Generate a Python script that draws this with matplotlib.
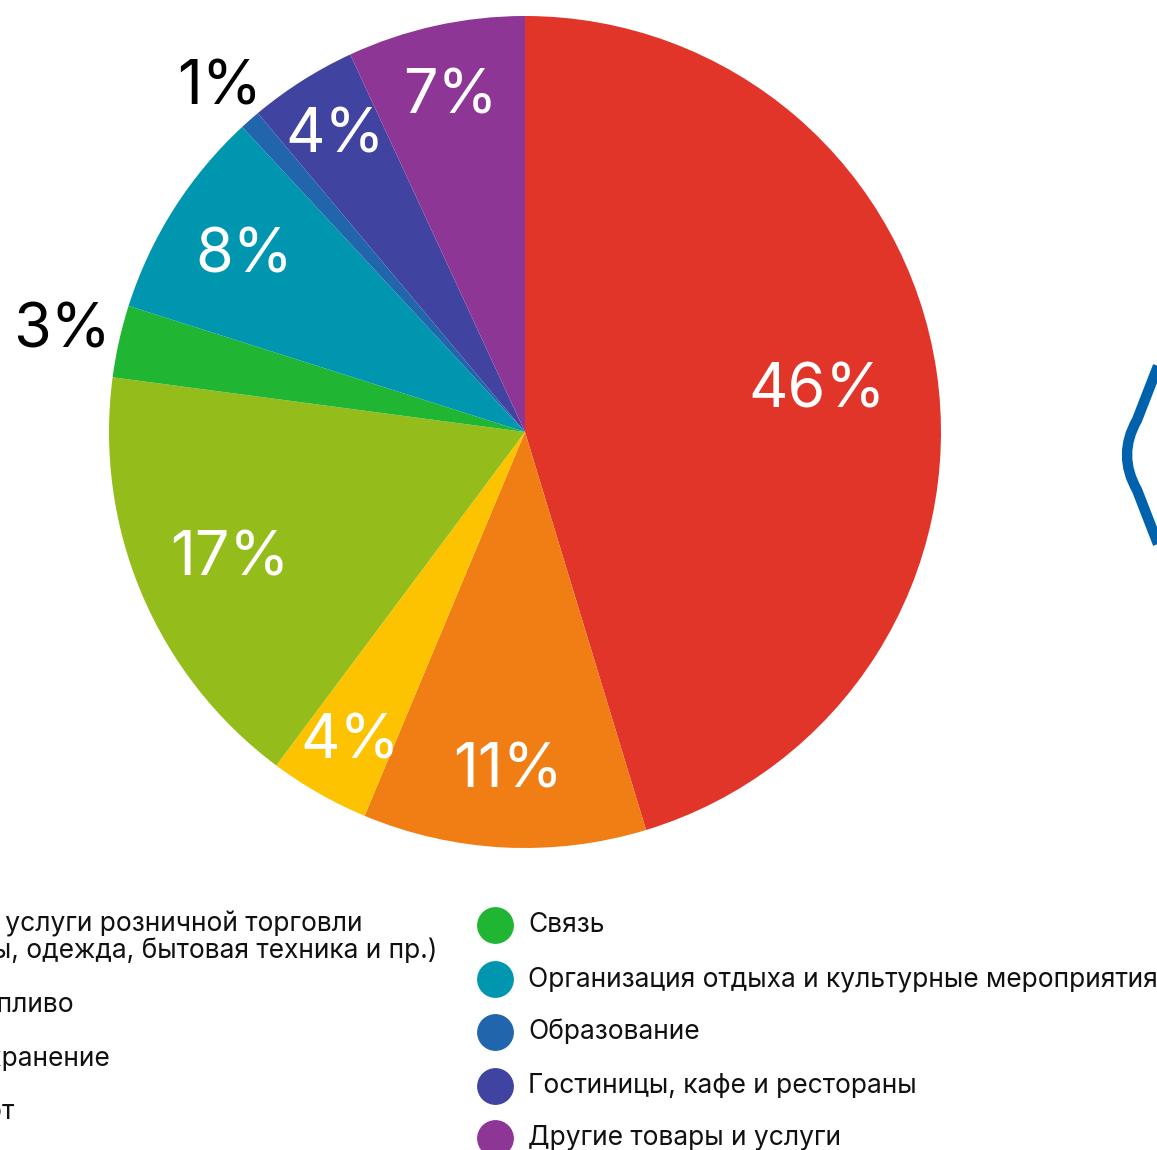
import matplotlib.pyplot as plt
import numpy as np
from matplotlib.path import Path
from matplotlib.patches import PathPatch

# shares (slice angles), and the printed labels
categories = ['Товары и услуги розничной торговли\n(продукты, одежда, бытовая техника и пр.)',
              'Авто и топливо', 'Здравоохранение', 'Транспорт', 'Связь',
              'Организация отдыха и культурные мероприятия', 'Образование',
              'Гостиницы, кафе и рестораны', 'Другие товары и услуги']
shares = [45.3, 11.0, 3.9, 16.9, 2.8, 8.2, 0.8, 4.2, 6.9]
pct_labels = ['46%', '11%', '4%', '17%', '3%', '8%', '1%', '4%', '7%']

colors = ['#E1352A', '#F07E15', '#FDC300', '#94BD1B', '#21B534',
          '#0096AF', '#2166AC', '#4143A0', '#8E3696']
label_r = [0.71, 0.81, 0.85, 0.77, 1.14, 0.80, 1.11, 0.85, 0.83]
label_col = ['white', 'white', 'white', 'white', 'black',
             'white', 'black', 'white', 'white']

W, H = 1157, 1150
fig = plt.figure(figsize=(W / 100, H / 100), dpi=100)
ax = fig.add_axes([0, 0, 1, 1])

cx, cy, R = 525, H - 432, 416
wedges, _ = ax.pie(shares, colors=colors, startangle=90, counterclock=False,
                   center=(cx, cy), radius=R, wedgeprops=dict(linewidth=0))

for w, lab, rr, c in zip(wedges, pct_labels, label_r, label_col):
    mid = np.deg2rad((w.theta1 + w.theta2) / 2)
    ax.text(cx + rr * R * np.cos(mid), cy + rr * R * np.sin(mid) - 3, lab,
            ha='center', va='center', color=c, fontsize=44, family='Inter')

# legend, two columns (the left one runs off the canvas)
left_rows = [938, 1005, 1059, 1112]
right_rows = [925, 979, 1032, 1086, 1138]
cols = [(-156, left_rows, categories[:4]), (495, right_rows, categories[4:])]
k = 0
for mx, rows, items in cols:
    for yy, name in zip(rows, items):
        ax.scatter([mx], [H - yy], s=650, color=colors[k], clip_on=False)
        ax.text(mx + 33, H - yy, name, ha='left', va='center', fontsize=19,
                family='Inter', color='#111111', linespacing=1.05)
        k += 1

# rounded outline shape at the right edge
verts = [(1172, H - 330), (1137, H - 420), (1117, H - 455), (1137, H - 490),
         (1172, H - 580)]
codes = [Path.MOVETO, Path.LINETO, Path.CURVE3, Path.CURVE3, Path.LINETO]
ax.add_patch(PathPatch(Path(verts, codes), fill=False, edgecolor='#0062AC',
                       lw=7.5, capstyle='butt', joinstyle='round'))

ax.set_xlim(0, W)
ax.set_ylim(0, H)
ax.set_aspect('auto')
ax.axis('off')
fig.savefig('out.png', dpi=100)
